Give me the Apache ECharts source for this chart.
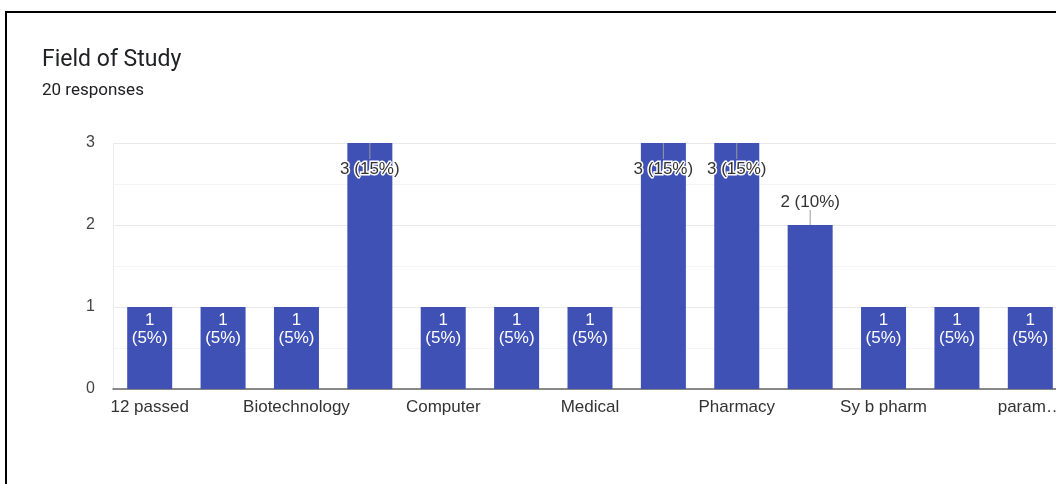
<!DOCTYPE html>
<html>
<head>
<meta charset="utf-8">
<title>Field of Study</title>
<script src="https://cdn.jsdelivr.net/npm/echarts@6/dist/echarts.min.js"></script>
<style>
  html, body { margin: 0; padding: 0; background: #fff; }
  #chart { width: 1056px; height: 484px; }
</style>
</head>
<body>
<div id="chart"></div>
<script>
// Survey answers, in the order the form lists them
const categories = [
  '12 passed', 'B.Pharm', 'Biotechnology', 'Commerce', 'Computer',
  'Engineering', 'Medical', 'Nursing', 'Pharmacy', 'Science',
  'Sy b pharm', 'b pharm', 'paramedical'
];
const counts = [1, 1, 1, 3, 1, 1, 1, 3, 3, 2, 1, 1, 1];
const yTicks = [0, 1, 2, 3];
const titleText = 'Field of Study';

const total = counts.reduce((a, b) => a + b, 0);
const subtitleText = total + ' responses';
const yMax = yTicks[yTicks.length - 1];

const LABEL_FONT = '"Liberation Sans", Arial, sans-serif';
const BAR_COLOR = '#3f51b5';

function pct(v) { return Math.round(v / total * 100) + '%'; }

// The last category sits at the chart's edge, so its name is shortened
function categoryLabel(value, index) {
  if (index === categories.length - 1) {
    return echarts.format.truncateText(value, 72, '17px ' + LABEL_FONT, '…');
  }
  return value;
}

// Small counts: label inside the bar; larger ones get a stem annotation
const barData = counts.map(v => ({
  value: v,
  label: { show: v < 2 }
}));

const chart = echarts.init(document.getElementById('chart'), null, { renderer: 'canvas' });

chart.setOption({
  animation: false,
  backgroundColor: '#fff',
  graphic: [
    {
      type: 'rect',
      shape: { x: 6, y: 12, width: 1200, height: 600 },
      style: { fill: 'none', stroke: '#000', lineWidth: 2 },
      silent: true
    },
    {
      type: 'text',
      style: {
        x: 42, y: 60, text: titleText,
        font: '23px Roboto, sans-serif', fill: '#202124',
        align: 'left', verticalAlign: 'middle'
      }
    },
    {
      type: 'text',
      style: {
        x: 42, y: 90.5, text: subtitleText,
        font: '17px Roboto, sans-serif', fill: '#202124',
        align: 'left', verticalAlign: 'middle'
      }
    }
  ],
  grid: {
    left: 113, top: 143, width: 954, height: 246,
    containLabel: false, outerBoundsMode: 'none'
  },
  xAxis: {
    type: 'category',
    data: categories,
    axisLine: { show: true, lineStyle: { color: '#666', width: 1.5 } },
    axisTick: { show: false },
    axisLabel: {
      interval: 1,
      color: '#333',
      fontSize: 17,
      fontFamily: LABEL_FONT,
      margin: 10,
      formatter: categoryLabel
    },
    splitLine: { show: false }
  },
  yAxis: {
    type: 'value',
    min: yTicks[0],
    max: yMax,
    interval: 1,
    axisLine: { show: true, lineStyle: { color: '#ececec', width: 1 } },
    axisTick: { show: false },
    axisLabel: {
      color: '#444',
      fontSize: 16,
      fontFamily: LABEL_FONT,
      margin: 18
    },
    splitLine: { show: true, lineStyle: { color: '#e9e9e9', width: 1 } },
    minorTick: { show: false, splitNumber: 2 },
    minorSplitLine: { show: true, lineStyle: { color: '#f4f4f4', width: 1 } }
  },
  series: [
    {
      type: 'bar',
      data: barData,
      barWidth: 45,
      itemStyle: { color: BAR_COLOR },
      label: {
        position: 'insideTop',
        distance: 4,
        color: '#fff',
        fontSize: 17,
        fontFamily: LABEL_FONT,
        lineHeight: 18,
        formatter: p => p.value + '\n(' + pct(p.value) + ')'
      },
      z: 2
    },
    {
      type: 'custom',
      data: counts.map((v, i) => [i, v]),
      z: 5,
      silent: true,
      renderItem: function (params, api) {
        const v = api.value(1);
        if (v < 2) return null;
        const top = api.coord([api.value(0), v]);
        const inside = v >= yMax;
        const stemEnd = inside ? top[1] + 16 : top[1] - 15;
        const textY = inside ? top[1] + 26 : top[1] - 23;
        return {
          type: 'group',
          children: [
            {
              type: 'line',
              shape: { x1: top[0], y1: top[1], x2: top[0], y2: stemEnd },
              style: { stroke: '#9a9a9a', lineWidth: 1 }
            },
            {
              type: 'text',
              style: {
                x: top[0], y: textY,
                text: v + ' (' + pct(v) + ')',
                align: 'center', verticalAlign: 'middle',
                font: '17px ' + LABEL_FONT,
                fill: '#333',
                stroke: '#fff', lineWidth: 3
              }
            }
          ]
        };
      }
    }
  ]
});
</script>
</body>
</html>
